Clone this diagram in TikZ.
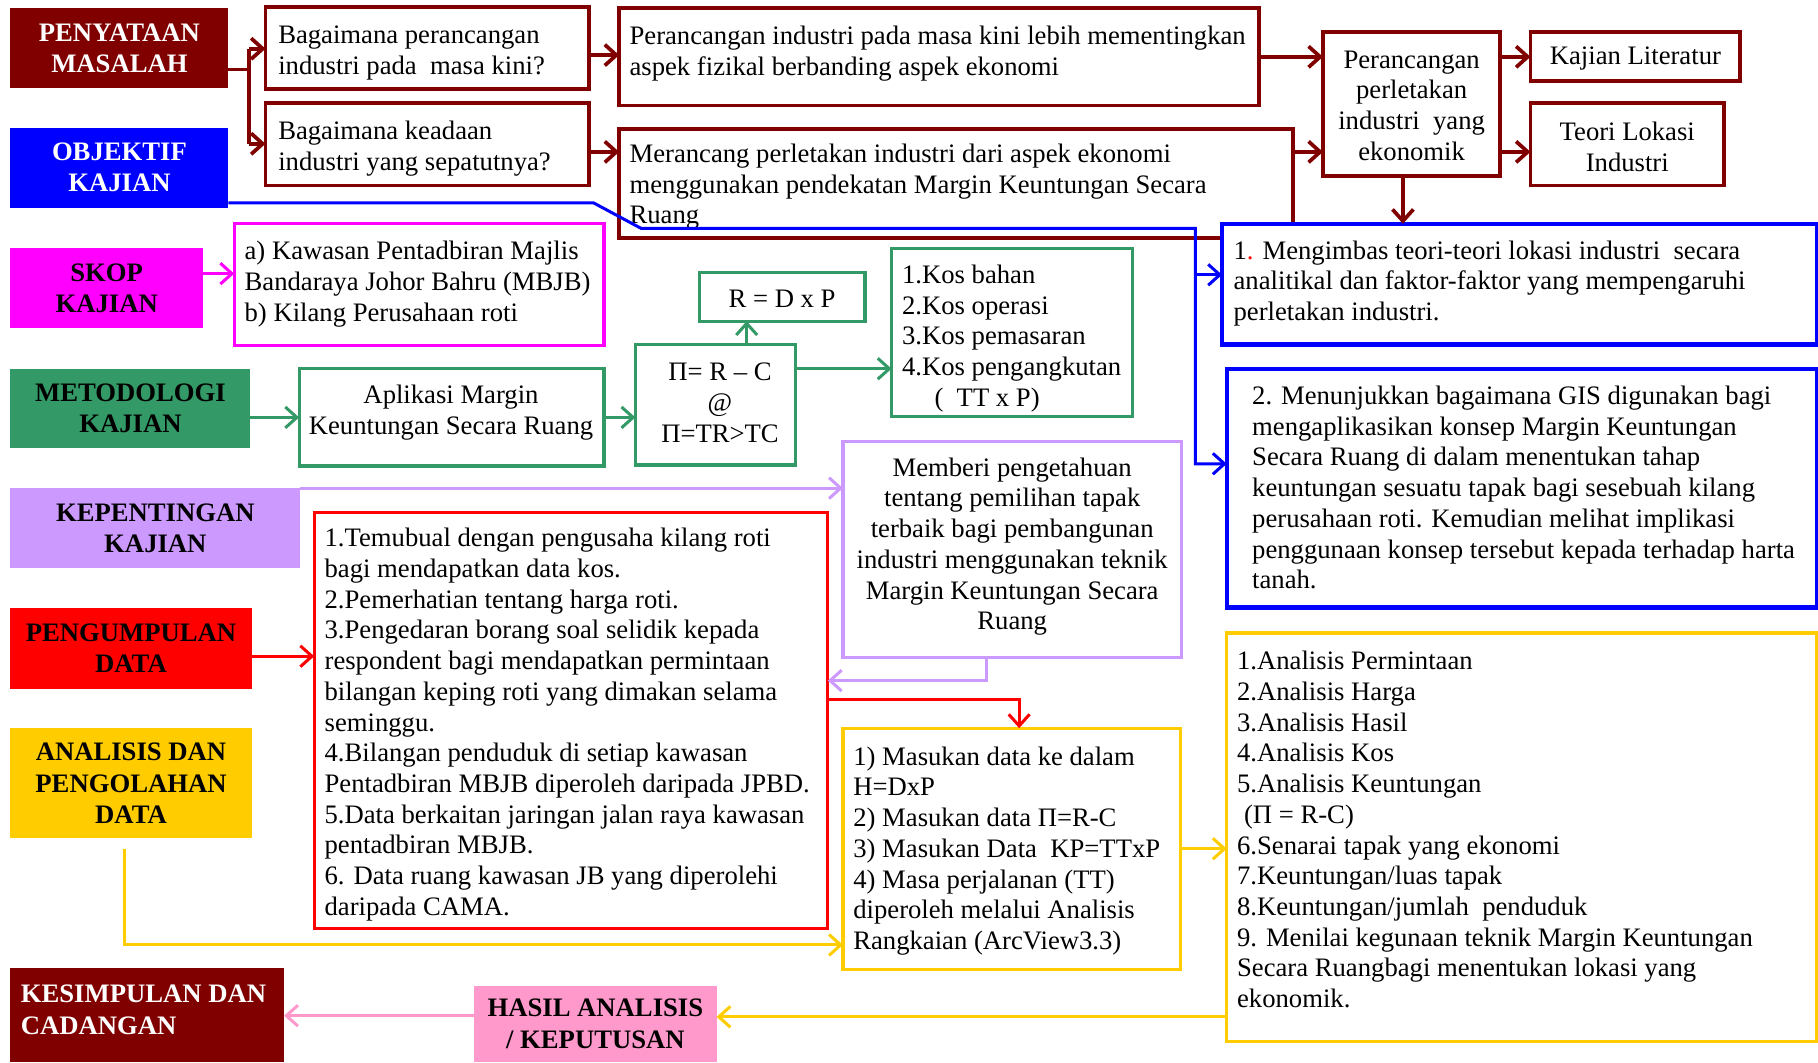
\documentclass[tikz,border=0pt]{standalone}
\usepackage{fontspec}
\setmainfont{Liberation Serif}
\usetikzlibrary{arrows.meta}
\definecolor{dred}{HTML}{800000}
\definecolor{mblue}{HTML}{0000FF}
\definecolor{mmag}{HTML}{FF00FF}
\definecolor{mgreen}{HTML}{339966}
\definecolor{mlav}{HTML}{CC99FF}
\definecolor{mred}{HTML}{FF0000}
\definecolor{mgold}{HTML}{FFCC00}
\definecolor{mpink}{HTML}{FF99CC}
\newcommand{\mkbox}[7]{%
  \pgfmathsetmacro\myboxw{(#4-#2)*0.5}%
  \pgfmathsetmacro\myboxh{(#5-#3)*0.5}%
  \node[#6, minimum width=\myboxw pt, minimum height=\myboxh pt] (#1) at ({(#2+#4)/2},{(#3+#5)/2}) {#7};}
\begin{document}
\begin{tikzpicture}[x=0.5pt,y=-0.5pt,
  every node/.style={inner sep=0pt,outer sep=0pt},
  txt/.style={font=\fontsize{11.5}{13.25}\selectfont},
  ttl/.style={rectangle, fill=#1, font=\fontsize{11.5}{13.5}\selectfont\bfseries, align=center},
  bx/.style={rectangle, draw=#1, fill=white, line width=1.4pt, txt, align=center},
  bxb/.style={rectangle, draw=#1, fill=white, line width=1.9pt},
  arr/.style={draw=#1, line width=1.3pt, -{Straight Barb[length=5pt,width=9pt]}},
  darr/.style={draw=dred, line width=1.6pt, -{Straight Barb[length=5pt,width=9pt]}},
  ln/.style={draw=#1, line width=1.3pt},
]
\useasboundingbox (0,0) rectangle (1568,916);

% ---------- left column titles ----------
\mkbox{pm}{9}{7}{197}{76}{ttl=dred,text=white}{PENYATAAN\\MASALAH}
\mkbox{ok}{9}{110}{197}{179}{ttl=mblue,text=white}{OBJEKTIF\\KAJIAN}
\mkbox{sk}{9}{214}{175}{283}{ttl=mmag}{SKOP\\KAJIAN}
\mkbox{me}{9}{318}{216}{386}{ttl=mgreen}{METODOLOGI\\KAJIAN}
\mkbox{kp}{9}{421}{259}{490}{ttl=mlav}{KEPENTINGAN\\KAJIAN}
\mkbox{pg}{9}{524}{217}{594}{ttl=mred}{PENGUMPULAN\\DATA}
\mkbox{an}{9}{628}{217}{723}{ttl=mgold}{ANALISIS DAN\\PENGOLAHAN\\DATA}
\mkbox{ks}{9}{835}{245}{916}{ttl=dred}{}
\mkbox{ha}{409}{850}{618}{916}{ttl=mpink}{HASIL ANALISIS\\/ KEPUTUSAN}

% ---------- problem statement row ----------
\mkbox{b1}{229}{6}{508}{77}{bx=dred,line width=1.7pt}{}
\mkbox{b2}{229}{89}{508}{160}{bx=dred,line width=1.7pt}{}
\mkbox{b3}{534}{7}{1086}{91}{bx=dred,line width=1.7pt}{}
\mkbox{b4}{534}{111}{1115}{205}{bx=dred,line width=1.7pt}{}
\mkbox{b5}{1141}{28}{1294}{152}{bx=dred,line width=1.7pt}{}
\mkbox{b6}{1320}{28}{1501}{70}{bx=dred,line width=1.7pt}{}
\mkbox{b7}{1320}{89}{1487}{160}{bx=dred,line width=1.7pt}{}

% ---------- objectives ----------
\mkbox{bl1}{1054}{193}{1567}{297}{bxb=mblue}{}
\mkbox{bl2}{1058}{318}{1567}{524}{bxb=mblue}{}

% ---------- scope / method ----------
\mkbox{skb}{202}{193}{521}{298}{bx=mmag}{}
\mkbox{apb}{258}{318}{521}{402}{bx=mgreen}{}
\mkbox{pib}{548}{297}{686}{401}{bx=mgreen}{}
\mkbox{rdp}{603}{235}{746}{277}{bx=mgreen}{}
\mkbox{kos}{769}{214}{977}{359}{bx=mgreen}{}
\mkbox{mem}{727}{381}{1019}{567}{bx=mlav}{}
\mkbox{redb}{271}{442}{714}{801}{bx=mred}{}
\mkbox{mas}{727}{628}{1018}{836}{bx=mgold}{}
\mkbox{anb}{1058}{546}{1567}{898}{bx=mgold}{}

% ---------- texts ----------
\node[txt,align=center] (b5t) at (1217.5,91) {Perancangan\\perletakan\\industri\ \ yang\\ekonomik};
\node[txt,align=center] (b6t) at (1410.5,50.5) {Kajian Literatur};
\node[txt,align=center] (b7t) at (1403.5,126.5) {Teori Lokasi\\Industri};
\node[txt,align=center] (rdpt) at (674.5,257.5) {R = D x P};
\node[txt,align=left,anchor=west] (b1t) at (240,46) {Bagaimana perancangan\\industri pada\ \ masa kini?};
\node[txt,align=left,anchor=west] (b2t) at (240,128) {Bagaimana keadaan\\industri yang sepatutnya?};
\node[txt,align=left,anchor=west] (b3t) at (543,46) {Perancangan industri pada masa kini lebih mementingkan\\aspek fizikal berbanding aspek ekonomi};
\node[txt,align=left,anchor=west] (b4t) at (543,161) {Merancang perletakan industri dari aspek ekonomi\\menggunakan pendekatan Margin Keuntungan Secara\\Ruang};
\node[txt,align=left,anchor=west] (bl1t) at (1064,244.5) {1{\color{mred}.} Mengimbas teori-teori lokasi industri\ \ secara\\analitikal dan faktor-faktor yang mempengaruhi\\perletakan industri.};
\node[txt,align=left,anchor=west] (bl2t) at (1080,420.5) {2. Menunjukkan bagaimana GIS digunakan bagi\\mengaplikasikan konsep Margin Keuntungan\\Secara Ruang di dalam menentukan tahap\\keuntungan sesuatu tapak bagi sesebuah kilang\\perusahaan roti. Kemudian melihat implikasi\\penggunaan konsep tersebut kepada terhadap harta\\tanah.};
\node[txt,align=left,anchor=west] (skbt) at (211,245) {a) Kawasan Pentadbiran Majlis\\Bandaraya Johor Bahru (MBJB)\\b) Kilang Perusahaan roti};
\node[txt,align=center] (apbt) at (389,356) {Aplikasi Margin\\Keuntungan Secara Ruang};
\node[txt,align=center] (pibt) at (621,347.5) {Π= R – C\\@\\Π=TR>TC};
\node[txt,align=left,anchor=west] (kost) at (778,292) {1.Kos bahan\\2.Kos operasi\\3.Kos pemasaran\\4.Kos pengangkutan\\\hspace*{14pt}(\ \ TT x P)};
\node[txt,align=center] (memt) at (873,471.5) {Memberi pengetahuan\\tentang pemilihan tapak\\terbaik bagi pembangunan\\industri menggunakan teknik\\Margin Keuntungan Secara\\Ruang};
\node[txt,align=left,anchor=west] (redt) at (280,625) {1.Temubual dengan pengusaha kilang roti\\bagi mendapatkan data kos.\\2.Pemerhatian tentang harga roti.\\3.Pengedaran borang soal selidik kepada\\respondent bagi mendapatkan permintaan\\bilangan keping roti yang dimakan selama\\seminggu.\\4.Bilangan penduduk di setiap kawasan\\Pentadbiran MBJB diperoleh daripada JPBD.\\5.Data berkaitan jaringan jalan raya kawasan\\pentadbiran MBJB.\\6. Data ruang kawasan JB yang diperolehi\\daripada CAMA.};
\node[txt,align=left,anchor=west] (mast) at (736,734) {1) Masukan data ke dalam\\H=DxP\\2) Masukan data Π=R-C\\3) Masukan Data\ \ KP=TTxP\\4) Masa perjalanan (TT)\\diperoleh melalui Analisis\\Rangkaian (ArcView3.3)};
\node[txt,align=left,anchor=west] (anbt) at (1067,715.5) {1.Analisis Permintaan\\2.Analisis Harga\\3.Analisis Hasil\\4.Analisis Kos\\5.Analisis Keuntungan\\\hspace*{3pt}(Π = R-C)\\6.Senarai tapak yang ekonomi\\7.Keuntungan/luas tapak\\8.Keuntungan/jumlah\ \ penduduk\\9. Menilai kegunaan teknik Margin Keuntungan\\Secara Ruangbagi menentukan lokasi yang\\ekonomik.};
\node[font=\fontsize{11.5}{13.5}\selectfont\bfseries,text=white,align=left,anchor=west] (kst) at (18,871) {KESIMPULAN DAN\\CADANGAN};

% ---------- dark red connectors ----------
\coordinate (pmj) at (215,60);
\coordinate (pmt) at (215,42);
\coordinate (pmb) at (215,124);
\draw[ln=dred,line width=1.6pt] (pm.east |- pmj) -- (pmj);
\draw[ln=dred,line width=1.6pt] (pmt) -- (pmb);
\draw[darr] (pmt) -- (pmt -| b1.west);
\draw[darr] (pmb) -- (pmb -| b2.west);
\draw[darr] (b1.east |- 0,47.5) -- (b3.west |- 0,47.5);
\draw[darr] (b2.east |- 0,131) -- (b4.west |- 0,131);
\draw[darr] (b3.east |- 0,49) -- (b5.west |- 0,49);
\draw[darr] (b4.east |- 0,131) -- (b5.west |- 0,131);
\draw[darr] (b5.east |- 0,49) -- (b6.west |- 0,49);
\draw[darr] (b5.east |- 0,131) -- (b7.west |- 0,131);
\draw[darr] (b5.south -| 1210,0) -- (bl1.north -| 1210,0);

% ---------- blue connectors ----------
\coordinate (o1) at (512,175);
\coordinate (o2) at (553,197);
\coordinate (o3) at (1031,197);
\coordinate (o4) at (1031,400);
\coordinate (o5) at (1031,237);
\draw[arr=mblue] (ok.east |- o1) -- (o1) -- (o2) -- (o3) -- (o4) -- (o4 -| bl2.west);
\draw[arr=mblue] (o5) -- (o5 -| bl1.west);

% ---------- magenta / green ----------
\draw[arr=mmag] (sk.east |- 0,236) -- (skb.west |- 0,236);
\draw[arr=mgreen] (me.east |- 0,360) -- (apb.west |- 0,360);
\draw[arr=mgreen] (apb.east |- 0,360) -- (pib.west |- 0,360);
\draw[arr=mgreen] (pib.north -| 644,0) -- (rdp.south -| 644,0);
\draw[arr=mgreen] (pib.east |- 0,318) -- (kos.west |- 0,318);

% ---------- lavender ----------
\draw[arr=mlav] (kp.north east) -- (kp.north east -| mem.west);
\coordinate (l1) at (851,587);
\draw[arr=mlav] (mem.south -| l1) -- (l1) -- (l1 -| redb.east);

% ---------- red ----------
\draw[arr=mred] (pg.east |- 0,566) -- (redb.west |- 0,566);
\coordinate (r1) at (879,603);
\draw[arr=mred] (redb.east |- r1) -- (r1) -- (r1 |- mas.north);

% ---------- gold ----------
\coordinate (g1) at (107,732);
\coordinate (g2) at (107,815);
\draw[arr=mgold] (g1) -- (g2) -- (g2 -| mas.west);
\draw[arr=mgold] (mas.east |- 0,732) -- (anb.west |- 0,732);
\draw[arr=mgold] (anb.west |- 0,877) -- (ha.east |- 0,877);

% ---------- pink ----------
\draw[arr=mpink] (ha.west |- 0,876) -- (ks.east |- 0,876);
\end{tikzpicture}
\end{document}
